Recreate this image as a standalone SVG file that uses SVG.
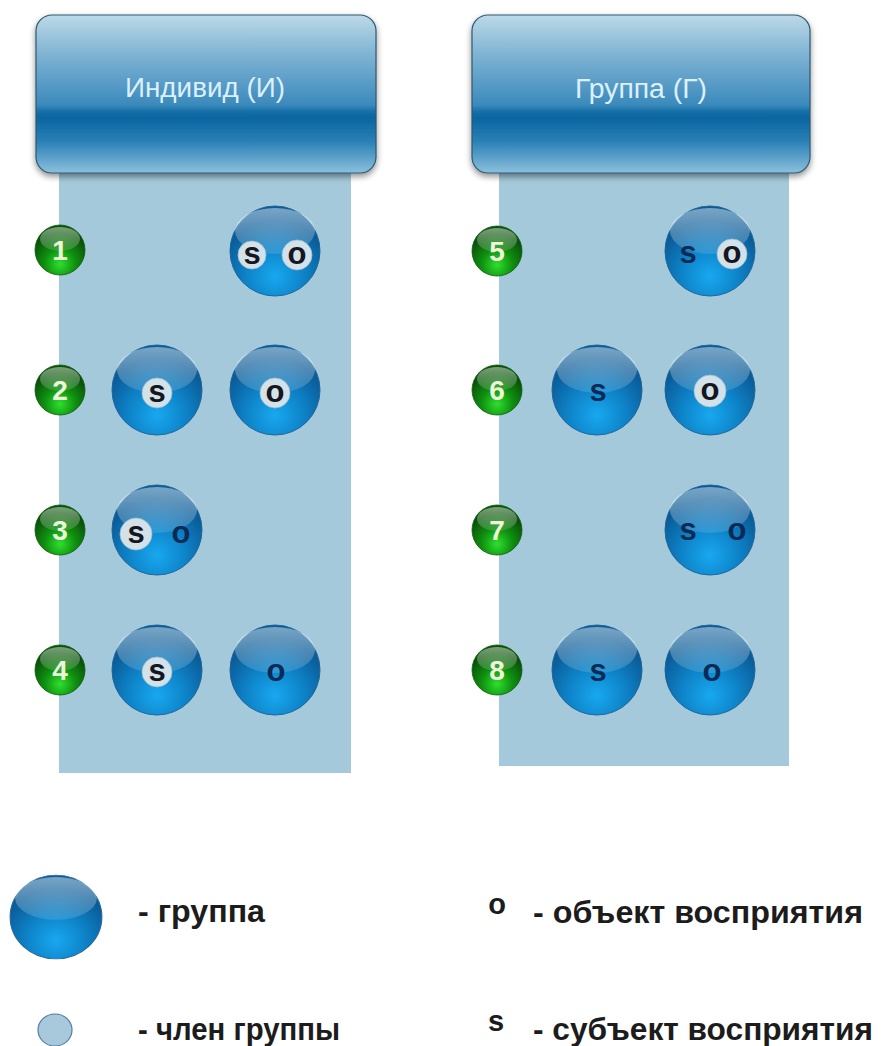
<svg xmlns="http://www.w3.org/2000/svg" width="884" height="1046" viewBox="0 0 884 1046">
<style>
.panel{fill:#a3c9da}
.hdr{fill:url(#hdrg);stroke:#2f5870;stroke-width:1.2}
.htxt{font-family:"Liberation Sans",Arial,sans-serif;font-size:27px;fill:#dcf0fa;text-anchor:middle}
.num{font-family:"Liberation Sans",Arial,sans-serif;font-size:28px;font-weight:bold;fill:#eef6d8;text-anchor:middle}
.m{fill:#d3e1e9;stroke:#9fbccd;stroke-width:0.8}
.L{font-family:"Liberation Sans",Arial,sans-serif;font-size:31px;font-weight:bold;fill:#16161f;text-anchor:middle}
.Ln{font-family:"Liberation Sans",Arial,sans-serif;font-size:31px;font-weight:bold;fill:#0b2a55;text-anchor:middle}
.lg{font-family:"Liberation Sans",Arial,sans-serif;font-size:31px;font-weight:bold;fill:#1c1c1c}
.ls{font-family:"Liberation Sans",Arial,sans-serif;font-size:29px;font-weight:bold;fill:#1c1c1c;text-anchor:middle}
</style>
<defs>
<linearGradient id="hdrg" x1="0" y1="0" x2="0" y2="1">
<stop offset="0" stop-color="#bcd9e8"/>
<stop offset="0.25" stop-color="#7fb3d3"/>
<stop offset="0.5" stop-color="#4a93c2"/>
<stop offset="0.57" stop-color="#3a89bb"/>
<stop offset="0.61" stop-color="#1570a8"/>
<stop offset="0.65" stop-color="#0a65a0"/>
<stop offset="0.8" stop-color="#2a80b6"/>
<stop offset="1" stop-color="#8cc0dc"/>
</linearGradient>
<radialGradient id="sph" cx="0.5" cy="0.78" r="0.62">
<stop offset="0" stop-color="#18a8f0"/>
<stop offset="0.5" stop-color="#0e84c9"/>
<stop offset="1" stop-color="#0a5b97"/>
</radialGradient>
<linearGradient id="hl" x1="0" y1="0" x2="0" y2="1">
<stop offset="0" stop-color="#ffffff" stop-opacity="0.45"/>
<stop offset="1" stop-color="#ffffff" stop-opacity="0.12"/>
</linearGradient>
<radialGradient id="gsph" cx="0.5" cy="0.78" r="0.62">
<stop offset="0" stop-color="#2ee02e"/>
<stop offset="0.5" stop-color="#0f9010"/>
<stop offset="1" stop-color="#0a5209"/>
</radialGradient>
<filter id="shd" x="-10%" y="-10%" width="120%" height="130%">
<feDropShadow dx="0" dy="3" stdDeviation="3" flood-color="#000" flood-opacity="0.45"/>
</filter>
<g id="ball">
<circle r="45" fill="url(#sph)" stroke="#1f669b" stroke-width="1"/>
<ellipse cx="0" cy="-20" rx="40" ry="23" fill="url(#hl)"/>
</g>
<g id="gball">
<circle r="25" fill="url(#gsph)" stroke="#0c5a0c" stroke-width="0.8"/>
<ellipse cx="0" cy="-11" rx="20" ry="12" fill="url(#hl)"/>
</g>
</defs>

<g id="panel-left"><rect class="panel" x="59" y="165" width="292" height="608"/></g>
<g id="panel-right"><rect class="panel" x="499" y="165" width="290" height="601"/></g>

<g id="header-individ">
<rect class="hdr" x="36" y="15" width="340" height="158" rx="16" filter="url(#shd)"/>
<text class="htxt" x="205" y="97" textLength="160" lengthAdjust="spacingAndGlyphs">Индивид (И)</text>
</g>
<g id="header-group">
<rect class="hdr" x="472" y="15" width="338" height="158" rx="16" filter="url(#shd)"/>
<text class="htxt" x="641" y="98" textLength="132" lengthAdjust="spacingAndGlyphs">Группа (Г)</text>
</g>

<g id="connectors"></g>

<g id="n1"><use href="#gball" x="60" y="250"/><text class="num" x="60" y="260">1</text></g>
<g id="n2"><use href="#gball" x="60" y="390"/><text class="num" x="60" y="400">2</text></g>
<g id="n3"><use href="#gball" x="60" y="530"/><text class="num" x="60" y="540">3</text></g>
<g id="n4"><use href="#gball" x="60" y="670"/><text class="num" x="60" y="680">4</text></g>
<g id="n5"><use href="#gball" x="497" y="251"/><text class="num" x="497" y="261">5</text></g>
<g id="n6"><use href="#gball" x="497" y="390"/><text class="num" x="497" y="400">6</text></g>
<g id="n7"><use href="#gball" x="497" y="530"/><text class="num" x="497" y="540">7</text></g>
<g id="n8"><use href="#gball" x="497" y="670"/><text class="num" x="497" y="680">8</text></g>

<g id="g1"><use href="#ball" x="275" y="251"/>
<circle class="m" cx="252" cy="255" r="14"/><text class="L" x="252" y="264">s</text>
<circle class="m" cx="297" cy="255" r="15"/><text class="L" x="297" y="264">o</text></g>
<g id="g2s"><use href="#ball" x="157" y="390"/>
<circle class="m" cx="157" cy="393" r="15"/><text class="L" x="157" y="402">s</text></g>
<g id="g2o"><use href="#ball" x="275" y="390"/>
<circle class="m" cx="275" cy="393" r="15"/><text class="L" x="275" y="402">o</text></g>
<g id="g3"><use href="#ball" x="157" y="530"/>
<circle class="m" cx="136" cy="534" r="16"/><text class="L" x="136" y="543">s</text>
<text class="Ln" x="181" y="543">o</text></g>
<g id="g4s"><use href="#ball" x="157" y="670"/>
<circle class="m" cx="157" cy="672" r="15"/><text class="L" x="157" y="681">s</text></g>
<g id="g4o"><use href="#ball" x="275" y="670"/>
<text class="Ln" x="276" y="681">o</text></g>

<g id="g5"><use href="#ball" x="710" y="251"/>
<text class="Ln" x="688" y="263">s</text>
<circle class="m" cx="732" cy="254" r="15"/><text class="L" x="732" y="263">o</text></g>
<g id="g6s"><use href="#ball" x="597" y="390"/>
<text class="Ln" x="598" y="401">s</text></g>
<g id="g6o"><use href="#ball" x="710" y="390"/>
<circle class="m" cx="710" cy="391" r="16"/><text class="L" x="710" y="400">o</text></g>
<g id="g7"><use href="#ball" x="710" y="530"/>
<text class="Ln" x="688" y="540">s</text>
<text class="Ln" x="737" y="540">o</text></g>
<g id="g8s"><use href="#ball" x="597" y="670"/>
<text class="Ln" x="598" y="681">s</text></g>
<g id="g8o"><use href="#ball" x="710" y="670"/>
<text class="Ln" x="712" y="681">o</text></g>

<g id="legend-group">
<use href="#ball" transform="translate(56,917) scale(1.02,0.93)"/>
<text class="lg" x="138" y="922" textLength="127" lengthAdjust="spacingAndGlyphs">- группа</text>
</g>
<g id="legend-member">
<ellipse cx="55" cy="1030" rx="17" ry="16" fill="#a8c8dc" stroke="#4f7f9f" stroke-width="1.2"/>
<text class="lg" x="138" y="1040" textLength="202" lengthAdjust="spacingAndGlyphs">- член группы</text>
</g>
<g id="legend-object">
<text class="ls" x="497" y="914">o</text>
<text class="lg" x="533" y="923" textLength="330" lengthAdjust="spacingAndGlyphs">- объект восприятия</text>
</g>
<g id="legend-subject">
<text class="ls" x="496" y="1031">s</text>
<text class="lg" x="533" y="1040" textLength="340" lengthAdjust="spacingAndGlyphs">- субъект восприятия</text>
</g>
</svg>
